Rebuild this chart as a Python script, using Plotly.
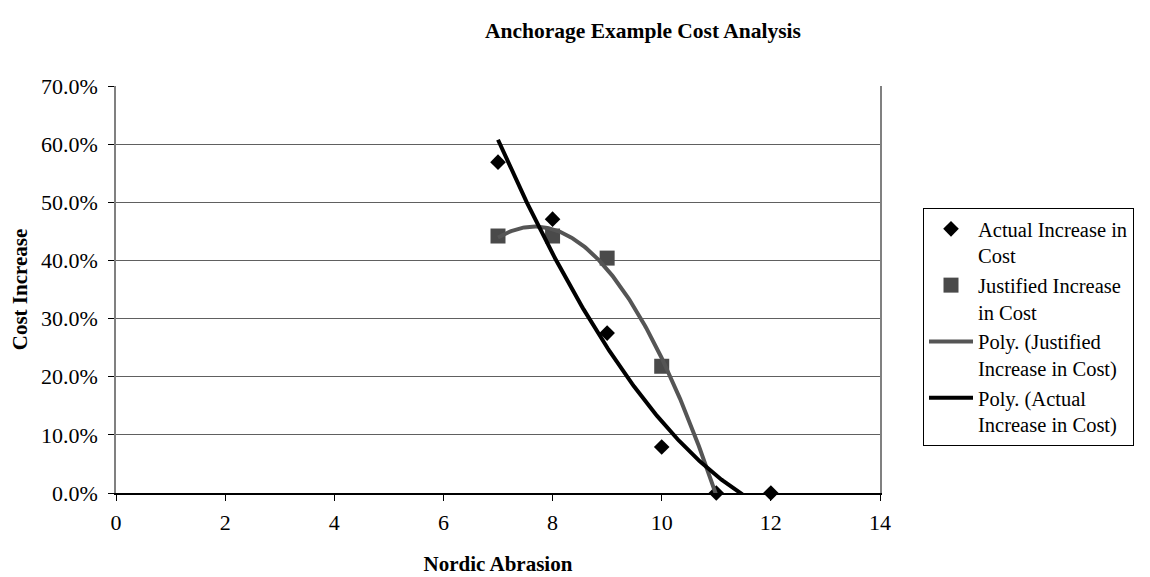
import numpy as np
import plotly.graph_objects as go

# ---- data ----
nordic_abrasion = [7, 8, 9, 10, 11, 12]
actual_increase = [0.569, 0.471, 0.275, 0.079, 0.0, 0.0]

justified_x = [7, 8, 9, 10, 11]
justified_increase = [0.442, 0.442, 0.404, 0.218, 0.0]

x_ticks = [0, 2, 4, 6, 8, 10, 12, 14]
y_ticks = [0.0, 0.1, 0.2, 0.3, 0.4, 0.5, 0.6, 0.7]

FONT = "Liberation Serif, Times New Roman, serif"

# polynomial trendlines (Excel-style Poly. order 2)
def trend(xs, ys, order=2):
    c = np.polyfit(xs, ys, order)
    xx = np.linspace(min(xs), max(xs), 200)
    return xx, np.polyval(c, xx)

ta_x, ta_y = trend(nordic_abrasion, actual_increase, 2)
tj_x, tj_y = trend(justified_x, justified_increase, 2)

# markers for justified series (the zero point is not shown as a marker in the original)
jx_m = [x for x, y in zip(justified_x, justified_increase) if y > 0]
jy_m = [y for y in justified_increase if y > 0]

fig = go.Figure()
fig.add_trace(go.Scatter(
    x=nordic_abrasion, y=actual_increase, mode="markers",
    name="Actual Increase in<br>Cost",
    marker=dict(symbol="diamond", size=12, color="#000000"),
    cliponaxis=False))
fig.add_trace(go.Scatter(
    x=jx_m, y=jy_m, mode="markers",
    name="Justified Increase<br>in Cost",
    marker=dict(symbol="square", size=15, color="#4a4a4a"),
    cliponaxis=False))
fig.add_trace(go.Scatter(
    x=tj_x, y=tj_y, mode="lines",
    name="Poly. (Justified<br>Increase in Cost)",
    line=dict(color="#555555", width=4)))
fig.add_trace(go.Scatter(
    x=ta_x, y=ta_y, mode="lines",
    name="Poly. (Actual<br>Increase in Cost)",
    line=dict(color="#000000", width=4)))

W, H = 1142, 569  # page body has an 8px margin
fig.update_layout(
    width=W, height=H,
    paper_bgcolor="white", plot_bgcolor="white",
    margin=dict(l=108, r=270, t=78, b=84),
    font=dict(family=FONT, size=21, color="#000000"),
    title=dict(text="<b>Anchorage Example Cost Analysis</b>",
               x=635/W, xanchor="center", xref="container",
               y=1-22/H, yanchor="middle", yref="container",
               font=dict(family=FONT, size=21.5)),
    showlegend=True,
    legend=dict(x=(923-116)/764, xanchor="left",
                y=(493-208)/407, yanchor="top",
                bordercolor="#000000", borderwidth=1, bgcolor="white",
                font=dict(family=FONT, size=20.5), valign="top",
                itemwidth=44),
)

fig.update_xaxes(
    range=[0, 14], tickvals=x_ticks, ticktext=[str(v) for v in x_ticks],
    showgrid=False, zeroline=False, automargin=False,
    showline=True, linecolor="#000000", linewidth=1.5,
    ticks="outside", ticklen=6, tickcolor="#000000",
    ticklabelstandoff=3,
    tickfont=dict(family=FONT, size=22),
    title=dict(text="<b>Nordic Abrasion</b>", standoff=22,
               font=dict(family=FONT, size=21)),
)
fig.update_yaxes(
    range=[0, 0.7], tickvals=y_ticks, tickformat=".1%",
    showgrid=True, gridcolor="#606060", gridwidth=1, zeroline=False,
    automargin=False,
    showline=True, linecolor="#808080", linewidth=1.5, mirror=True,
    ticks="outside", ticklen=6, tickcolor="#000000",
    ticklabelstandoff=6,
    tickfont=dict(family=FONT, size=22),
    title=dict(text="<b>Cost Increase</b>", standoff=12,
               font=dict(family=FONT, size=21)),
)

fig.write_html("out.html")
